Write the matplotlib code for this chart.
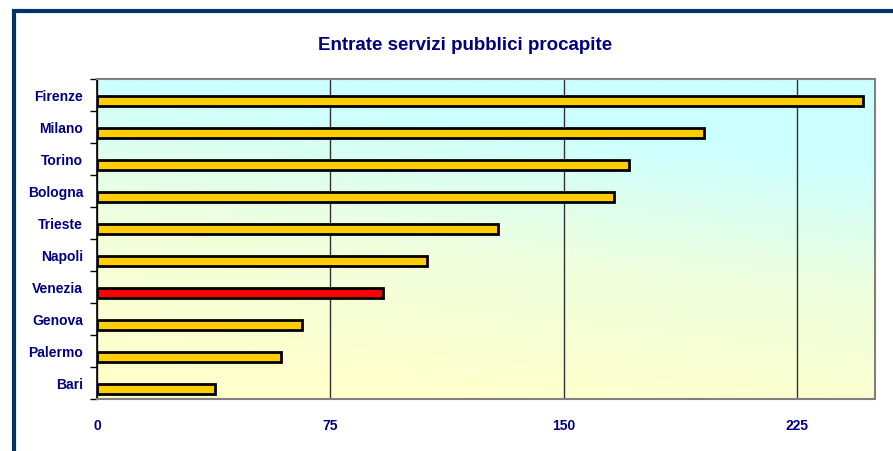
import numpy as np
import matplotlib.pyplot as plt
from matplotlib.colors import LinearSegmentedColormap
from matplotlib.patches import Rectangle

# data
cities = ['Firenze', 'Milano', 'Torino', 'Bologna', 'Trieste',
          'Napoli', 'Venezia', 'Genova', 'Palermo', 'Bari']
values = [246, 195, 171, 166, 129, 106, 92, 66, 59, 38]
highlight = 'Venezia'
xticks = [0, 75, 150, 225]

navy = '#000080'
plt.rcParams['font.family'] = ['Liberation Sans', 'DejaVu Sans']

fig = plt.figure(figsize=(8.93, 4.52), dpi=100)
ax = fig.add_axes([97 / 893, 1 - 400 / 452, (875 - 97) / 893, 320 / 452])

# gradient background (cyan top -> light yellow bottom-left)
cmap = LinearSegmentedColormap.from_list('bg', ['#FFFFCC', '#F0FFDD', '#CCFFFF'])
gx, gy = np.meshgrid(np.linspace(0, 1, 200), np.linspace(0, 1, 200))
grad = np.clip(0.3 * gx + 1.15 * gy - 0.15, 0, 1)
ax.imshow(grad[::-1], cmap=cmap, extent=[0, 250, 10, 0], aspect='auto',
          zorder=0, vmin=0, vmax=1)

n = len(cities)
pos = np.arange(n) + 0.5 + 0.19
colors = ['#FF0000' if c == highlight else '#FFCC00' for c in cities]
ax.barh(pos, values, height=0.31, color=colors, edgecolor='black',
        linewidth=2, zorder=3)

ax.set_xlim(0, 250)
ax.set_ylim(n, 0)

ax.set_xticks(xticks)
ax.set_xticklabels([str(t) for t in xticks], fontsize=10, fontweight='bold', color=navy)
ax.tick_params(axis='x', length=0, pad=14)
ax.grid(axis='x', color='#333333', linewidth=1, zorder=1)

ax.set_yticks(np.arange(n) + 0.5)
ax.set_yticklabels(cities, fontsize=10, fontweight='bold', color=navy)
ax.tick_params(axis='y', which='major', length=0, pad=10)
ax.set_yticks(np.arange(n + 1), minor=True)
ax.tick_params(axis='y', which='minor', length=5, width=1, color='black', direction='out')

for s in ['top', 'right', 'bottom']:
    ax.spines[s].set_color('#808080')
    ax.spines[s].set_linewidth(1.5)
ax.spines['left'].set_color('black')
ax.spines['left'].set_linewidth(1.2)
ax.set_axisbelow(True)

fig.text(465 / 893, 1 - 45 / 452, 'Entrate servizi pubblici procapite',
         ha='center', va='center', fontsize=13.5, fontweight='bold', color=navy)

# outer frame partially visible (left and top)
fig.patches.append(Rectangle((13.5 / 893, -0.1), 1.2, 1 - 11.5 / 452 + 0.1,
                             transform=fig.transFigure, fill=False,
                             edgecolor='#003366', linewidth=3))

fig.savefig('out.png', dpi=100)
